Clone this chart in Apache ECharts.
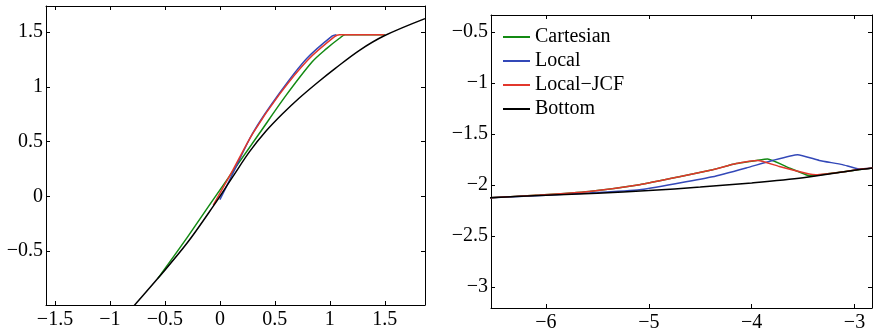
<!DOCTYPE html>
<html lang="en">
<head>
<meta charset="UTF-8">
<title>Cartesian / Local / Local-JCF / Bottom</title>
<script src="https://cdn.jsdelivr.net/npm/echarts@6/dist/echarts.min.js"></script>
<style type="text/css">
  html, body { margin:0; padding:0; background:#fff; }
  #main { width:873px; height:334px; }
</style>
</head>
<body>
<div id="main"></div>
<script type="text/javascript">
// series names (legend)
var names = ['Cartesian', 'Local', 'Local\u2212JCF', 'Bottom'];
var colors = ['#138a13', '#3348b8', '#e2372c', '#000000'];

// left panel, [x, y]
var leftCartesian = [[-0.564,-0.75],[-0.3,-0.38],[-0.064,-0.035],[0.36,0.576],[0.6,0.92],[0.84,1.23],[0.97,1.35],[1.088,1.445],[1.14,1.478],[1.5,1.478]];
var leftLocal = [[0.0,-0.03],[0.05,0.07],[0.118,0.21],[0.3,0.58],[0.54,0.94],[0.79,1.26],[1.02,1.465],[1.06,1.478]];
var leftJCF = [[-0.06,-0.08],[0.118,0.24],[0.3,0.576],[0.54,0.93],[0.8,1.247],[1.043,1.46],[1.088,1.478],[1.497,1.478]];
var leftBottom = [[-0.8,-1.023],[-0.775,-0.994],[-0.564,-0.75],[-0.3,-0.43],[-0.06,-0.09],[0.118,0.18],[0.27,0.408],[0.42,0.596],[0.57,0.754],[0.725,0.901],[0.9,1.05],[1.05,1.17],[1.27,1.335],[1.5,1.47],[1.866,1.625]];

// right panel
var rightCartesian = [[-6.55,-2.125],[-6.06,-2.098],[-5.58,-2.063],[-5.09,-1.997],[-4.703,-1.92],[-4.379,-1.85],[-4.15,-1.79],[-3.94,-1.757],[-3.845,-1.745],[-3.634,-1.833],[-3.488,-1.892],[-3.44,-1.909],[-3.0,-1.855],[-2.82,-1.833]];
var rightLocal = [[-6.55,-2.125],[-6,-2.10],[-5.577,-2.078],[-5.09,-2.046],[-4.703,-1.98],[-4.379,-1.92],[-4.054,-1.833],[-3.796,-1.759],[-3.553,-1.703],[-3.343,-1.759],[-3.117,-1.80],[-2.954,-1.843],[-2.82,-1.833]];
var rightJCF = [[-6.55,-2.125],[-6.06,-2.098],[-5.58,-2.063],[-5.09,-1.997],[-4.703,-1.92],[-4.379,-1.85],[-4.15,-1.79],[-3.94,-1.759],[-3.731,-1.818],[-3.44,-1.892],[-3.375,-1.899],[-3.08,-1.867],[-2.95,-1.845],[-2.82,-1.833]];
var rightBottom = [[-6.55,-2.125],[-6,-2.10],[-5.5,-2.08],[-5,-2.055],[-4.5,-2.02],[-4,-1.98],[-3.5,-1.93],[-3,-1.855],[-2.82,-1.833]];

// ticks
var leftXTicks = [-1.5,-1,-0.5,0,0.5,1,1.5];
var leftYTicks = [-0.5,0,0.5,1,1.5];
var rightXTicks = [-6,-5,-4,-3];
var rightYTicks = [-3,-2.5,-2,-1.5,-1,-0.5];

var font = "'Liberation Serif', 'DejaVu Serif', serif";

function fmt(v) {
  return String(+v.toFixed(2)).replace('-', '\u2212');
}

function axis(kind, grid, pos, min, max, ticks, labels) {
  return {
    type: 'value',
    gridIndex: grid,
    position: pos,
    min: min,
    max: max,
    axisLine: { show: true, onZero: false, lineStyle: { color: '#000', width: 1 } },
    axisTick: { show: true, inside: true, length: 4, customValues: ticks, lineStyle: { color: '#000' } },
    axisLabel: {
      show: labels,
      customValues: ticks,
      formatter: fmt,
      color: '#000',
      fontSize: 20,
      fontFamily: font,
      margin: kind == 'x' ? 5 : 3
    },
    splitLine: { show: false }
  };
}

var myChart = echarts.init(document.getElementById('main'));

function line(i, data, xi, yi, sm) {
  return {
    type: 'line',
    name: names[i],
    xAxisIndex: xi,
    yAxisIndex: yi,
    data: data,
    showSymbol: false,
    smooth: sm,
    clip: true,
    lineStyle: { color: colors[i], width: 1.5 },
    itemStyle: { color: colors[i] },
    emphasis: { disabled: true },
    animation: false
  };
}

option = {
  animation: false,
  grid: [
    { left: 46, top: 6, width: 379, height: 299 },
    { left: 491, top: 15, width: 381, height: 293 }
  ],
  legend: {
    data: names,
    orient: 'vertical',
    left: 498,
    top: 22,
    icon: 'rect',
    itemWidth: 27,
    itemHeight: 2,
    itemGap: 4,
    textStyle: { fontSize: 20, fontFamily: font, color: '#000', lineHeight: 20 }
  },
  xAxis: [
    axis('x', 0, 'bottom', -1.582, 1.866, leftXTicks, true),
    axis('x', 0, 'top', -1.582, 1.866, leftXTicks, false),
    axis('x', 1, 'bottom', -6.534, -2.83, rightXTicks, true),
    axis('x', 1, 'top', -6.534, -2.83, rightXTicks, false)
  ],
  yAxis: [
    axis('y', 0, 'left', -0.994, 1.74, leftYTicks, true),
    axis('y', 0, 'right', -0.994, 1.74, leftYTicks, false),
    axis('y', 1, 'left', -3.206, -0.333, rightYTicks, true),
    axis('y', 1, 'right', -3.206, -0.333, rightYTicks, false)
  ],
  series: [
    line(0, leftCartesian, 0, 0, 0.3),
    line(1, leftLocal, 0, 0, 0.3),
    line(2, leftJCF, 0, 0, 0.3),
    line(3, leftBottom, 0, 0, 0.35),
    line(0, rightCartesian, 2, 2, 0.15),
    line(1, rightLocal, 2, 2, 0.15),
    line(2, rightJCF, 2, 2, 0.15),
    line(3, rightBottom, 2, 2, 0.3)
  ]
};
myChart.setOption(option);
</script>
</body>
</html>
